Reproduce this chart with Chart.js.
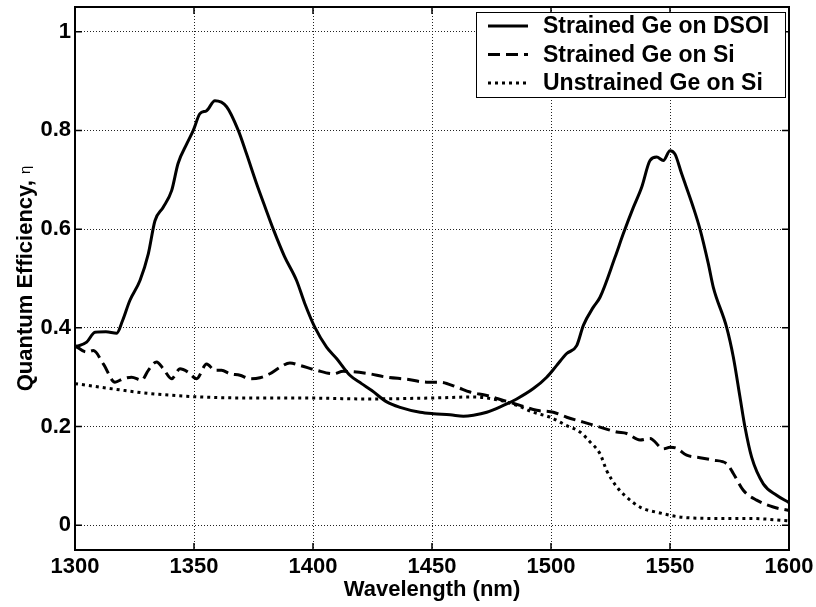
<!DOCTYPE html>
<html>
<head>
<meta charset="utf-8">
<script src="https://cdn.jsdelivr.net/npm/chart.js@4"></script>
<style>
  html,body{margin:0;padding:0;background:#fff;}
  #wrap{width:816px;height:607px;}
</style>
</head>
<body>
<div id="wrap"><canvas id="qe"></canvas></div>
<script>
/* -------------------- Data -------------------- */
const xTicks = [1300, 1350, 1400, 1450, 1500, 1550, 1600];
const yTicks = [0, 0.2, 0.4, 0.6, 0.8, 1];
const yTickLabels = ['0', '0.2', '0.4', '0.6', '0.8', '1'];

const seriesNames = ['Strained Ge on DSOI', 'Strained Ge on Si', 'Unstrained Ge on Si'];

// Strained Ge on DSOI (solid)
const dsoiX = [1300,1304.9,1308.4,1313,1317.5,1320,1323,1327.3,1330.8,1333.6,1337,1340.6,1343.3,1347,1349.7,1352.5,1355.3,1358.8,1363.7,1368.6,1372.1,1376.3,1380,1383.3,1388,1393.1,1396.5,1400.8,1405.7,1409.9,1415.5,1420.4,1424.7,1431,1436.6,1445,1450.6,1457.6,1463.2,1467.4,1473,1480,1485.6,1492.6,1498.2,1502.4,1506.6,1510.8,1513.6,1517.8,1520.6,1526.9,1530.4,1534.6,1538.1,1541.6,1544.4,1547.2,1550,1552.1,1554.9,1559.8,1562.6,1566.1,1568.2,1573.8,1576.6,1579.4,1581.5,1584.3,1589.2,1594.8,1600];
const dsoiY = [0.361,0.371,0.391,0.392,0.389,0.415,0.455,0.496,0.55,0.617,0.644,0.678,0.733,0.773,0.8,0.834,0.84,0.86,0.848,0.8,0.752,0.692,0.643,0.6,0.545,0.496,0.45,0.401,0.361,0.338,0.304,0.287,0.273,0.25,0.239,0.229,0.226,0.224,0.221,0.223,0.229,0.243,0.256,0.277,0.3,0.324,0.348,0.364,0.405,0.442,0.462,0.543,0.591,0.644,0.685,0.739,0.746,0.739,0.759,0.752,0.712,0.644,0.6,0.53,0.482,0.401,0.341,0.26,0.199,0.138,0.084,0.061,0.046];

// Strained Ge on Si (dashed)
const siX = [1300,1304.9,1307.7,1311.9,1316.8,1320.3,1323.8,1328,1330.8,1334.3,1337.1,1340.6,1344.1,1347.6,1351.1,1355.3,1358.8,1361.6,1365.1,1369.3,1373.5,1377.7,1381.9,1386.1,1390.3,1394.5,1401.5,1408.5,1412.7,1422.5,1431,1439.4,1447.8,1453.4,1460.4,1466,1473,1480,1487,1494,1501,1506.6,1513.6,1520.6,1527.6,1531.8,1537.4,1541.6,1547.2,1550,1552.8,1557,1562.6,1568.2,1573.8,1576.6,1580.8,1586.4,1593.4,1600];
const siY = [0.364,0.351,0.354,0.327,0.29,0.297,0.3,0.294,0.314,0.331,0.317,0.297,0.317,0.31,0.297,0.327,0.314,0.314,0.307,0.304,0.297,0.299,0.307,0.32,0.329,0.324,0.314,0.307,0.312,0.308,0.3,0.296,0.29,0.29,0.28,0.27,0.263,0.253,0.243,0.233,0.229,0.219,0.209,0.199,0.189,0.186,0.173,0.176,0.155,0.158,0.156,0.142,0.137,0.132,0.125,0.105,0.071,0.051,0.037,0.03];

// Unstrained Ge on Si (dotted)
const unX = [1300,1310.5,1321,1331.5,1352.5,1373.5,1394.5,1422.5,1450.6,1467.4,1478.6,1485.6,1492.6,1499.6,1506.6,1512.2,1516.4,1520.6,1523.4,1527.6,1531.8,1537.4,1545.8,1555.6,1569.6,1583.6,1600];
const unY = [0.287,0.28,0.273,0.267,0.26,0.258,0.258,0.256,0.258,0.26,0.253,0.243,0.229,0.219,0.202,0.189,0.169,0.145,0.111,0.078,0.057,0.037,0.025,0.016,0.014,0.014,0.009];

/* -------------------- Helpers -------------------- */
const FONT = "'Liberation Sans', Arial, sans-serif";
function pts(xs, ys){ return xs.map((x,i)=>({x, y:ys[i]})); }

// frame, inward ticks, y title and legend box (MATLAB style)
const framePlugin = {
  id:'frame',
  afterDraw(chart){
    const {ctx, chartArea:a, scales:{x, y}} = chart;
    ctx.save();
    ctx.strokeStyle = '#000';
    ctx.lineWidth = 2;
    ctx.strokeRect(a.left, a.top, a.right - a.left, a.bottom - a.top);
    ctx.lineWidth = 1.5;
    const tl = 7;
    ctx.beginPath();
    xTicks.forEach(v=>{
      const px = x.getPixelForValue(v);
      ctx.moveTo(px, a.bottom); ctx.lineTo(px, a.bottom - tl);
      ctx.moveTo(px, a.top); ctx.lineTo(px, a.top + tl);
    });
    yTicks.forEach(v=>{
      const py = y.getPixelForValue(v);
      ctx.moveTo(a.left, py); ctx.lineTo(a.left + tl, py);
      ctx.moveTo(a.right, py); ctx.lineTo(a.right - tl, py);
    });
    ctx.stroke();

    // y axis title with a smaller, plain eta
    ctx.save();
    ctx.translate(32, (a.top + a.bottom) / 2);
    ctx.rotate(-Math.PI / 2);
    ctx.textBaseline = 'alphabetic';
    ctx.fillStyle = '#000';
    const t1 = 'Quantum Efficiency, ', t2 = '\u03b7';
    ctx.font = 'bold 22px ' + FONT;
    const w1 = ctx.measureText(t1).width;
    ctx.font = '15px ' + FONT;
    const w2 = ctx.measureText(t2).width;
    const sx = -(w1 + w2) / 2;
    ctx.font = 'bold 22px ' + FONT;
    ctx.fillText(t1, sx, 0);
    ctx.font = '15px ' + FONT;
    ctx.fillText(t2, sx + w1, -2);
    ctx.restore();

    // legend
    const bx = a.right - 313, by = a.top + 5, bw = 309, bh = 85;
    ctx.fillStyle = '#fff';
    ctx.fillRect(bx, by, bw, bh);
    ctx.lineWidth = 1;
    ctx.strokeStyle = '#000';
    ctx.strokeRect(bx + 0.5, by + 0.5, bw, bh);
    ctx.font = 'bold 23px ' + FONT;
    ctx.textBaseline = 'middle';
    ctx.fillStyle = '#000';
    chart.data.datasets.forEach((ds, i)=>{
      const ly = by + 14 + i * 28.5;
      ctx.lineWidth = 3;
      ctx.setLineDash(ds.borderDash || []);
      ctx.beginPath();
      ctx.moveTo(bx + 12, ly); ctx.lineTo(bx + 52, ly);
      ctx.stroke();
      ctx.setLineDash([]);
      ctx.fillText(ds.label, bx + 67, ly + 1);
    });
    ctx.restore();
  }
};

/* -------------------- Chart -------------------- */
new Chart(document.getElementById('qe'), {
  type:'line',
  data:{
    datasets:[
      {label:seriesNames[0], data:pts(dsoiX, dsoiY), borderColor:'#000', borderWidth:3, borderDash:[]},
      {label:seriesNames[1], data:pts(siX, siY), borderColor:'#000', borderWidth:3, borderDash:[12,6]},
      {label:seriesNames[2], data:pts(unX, unY), borderColor:'#000', borderWidth:3, borderDash:[3,4]}
    ]
  },
  options:{
    responsive:true,
    maintainAspectRatio:false,
    animation:false,
    events:[],
    layout:{padding:{left:0, top:7, right:27, bottom:0}},
    elements:{point:{radius:0}, line:{cubicInterpolationMode:'monotone', borderCapStyle:'butt'}},
    plugins:{legend:{display:false}, tooltip:{enabled:false}},
    scales:{
      x:{
        type:'linear', min:1300, max:1600,
        afterBuildTicks: s=>{ s.ticks = xTicks.map(v=>({value:v})); },
        afterFit: s=>{ s.height = 57; s.paddingLeft = 0; s.paddingRight = 0; },
        grid:{color:'#222', lineWidth:1, drawTicks:false},
        border:{display:false, dash:[1,2]},
        ticks:{color:'#000', padding:4, maxRotation:0, font:{family:FONT, size:22, weight:'bold'},
               callback:v=> String(v)},
        title:{display:true, text:'Wavelength (nm)', color:'#000', padding:{top:0, bottom:4},
               font:{family:FONT, size:22, weight:'bold', lineHeight:1.2}}
      },
      y:{
        type:'linear', min:-0.05, max:1.05,
        afterBuildTicks: s=>{ s.ticks = yTicks.map(v=>({value:v})); },
        afterFit: s=>{ s.width = 75; s.paddingTop = 0; s.paddingBottom = 0; },
        grid:{color:'#222', lineWidth:1, drawTicks:false},
        border:{display:false, dash:[1,2]},
        ticks:{color:'#000', padding:4, font:{family:FONT, size:22, weight:'bold'},
               callback:(v, i)=> yTickLabels[i]},
        title:{display:false}
      }
    }
  },
  plugins:[framePlugin]
});
</script>
</body>
</html>
